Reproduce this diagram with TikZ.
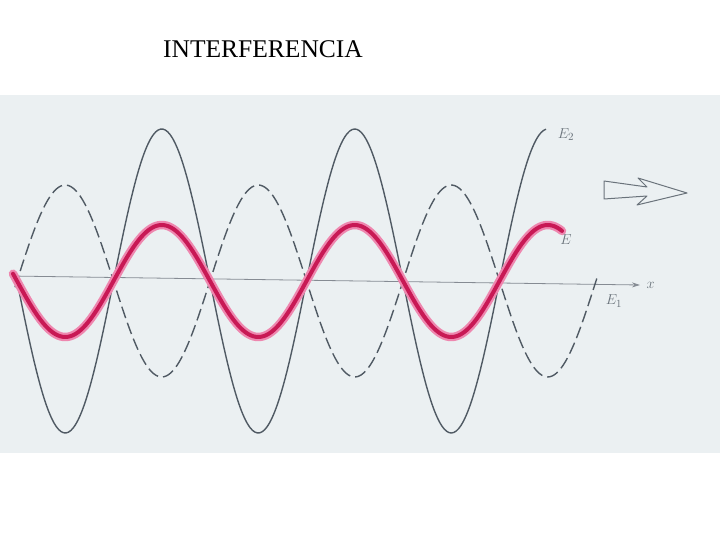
\documentclass[tikz,border=0pt]{standalone}
\usepackage{fontspec}
\setmainfont{Liberation Serif}
\usetikzlibrary{arrows.meta}
\definecolor{paper}{RGB}{235,240,242}
\definecolor{ink}{RGB}{80,90,100}
\definecolor{crimson}{RGB}{200,25,85}
\definecolor{halo}{RGB}{238,135,175}
\begin{document}
\begin{tikzpicture}[x=1pt,y=-1pt,
    wave/.style={ink,line width=1.4pt,smooth,samples=220},
    sumwave/.style={smooth,samples=220,line cap=round,line join=round},
    lbl/.style={ink!85,font=\fontsize{15}{15}\selectfont}]
  \useasboundingbox (0,0) rectangle (720,540);
  \fill[paper] (0,95) rectangle (720,453);
  \node[font=\fontsize{25.5}{25.5}\selectfont] (title) at (263,49) {INTERFERENCIA};
  % eje x
  \coordinate (xa) at (10,276);
  \coordinate (xb) at (640,285);
  \draw[ink!70,line width=0.8pt,-{Stealth[length=8pt,width=5pt]}] (xa) -- (xb);
  \node[lbl,right=3pt] (xl) at (xb) {$x$};
  % E2, linea continua
  \draw[wave,domain=15:546] plot (\x,{281+152*sin(1.8653*(\x-17))});
  % E1, linea de trazos
  \draw[wave,dash pattern=on 12pt off 5pt,domain=15:598] plot (\x,{281-96*sin(1.8653*(\x-17))});
  % E = E1 + E2
  \draw[sumwave,halo,line width=8.5pt,domain=13:562] plot (\x,{281+56*sin(1.8653*(\x-17))});
  \draw[sumwave,crimson,line width=4pt,domain=13:562] plot (\x,{281+56*sin(1.8653*(\x-17))});
  \node[lbl] (e2) at (566,135) {$E_2$};
  \node[lbl] (e) at (566,240) {$E$};
  \node[lbl] (e1) at (614,301) {$E_1$};
  % flecha hueca
  \draw[ink!85,line width=1pt,line join=round] (604,181) -- (647,187) -- (638,178) -- (687,193)
    -- (637,205) -- (647,196) -- (604,199) -- cycle;
\end{tikzpicture}
\end{document}
